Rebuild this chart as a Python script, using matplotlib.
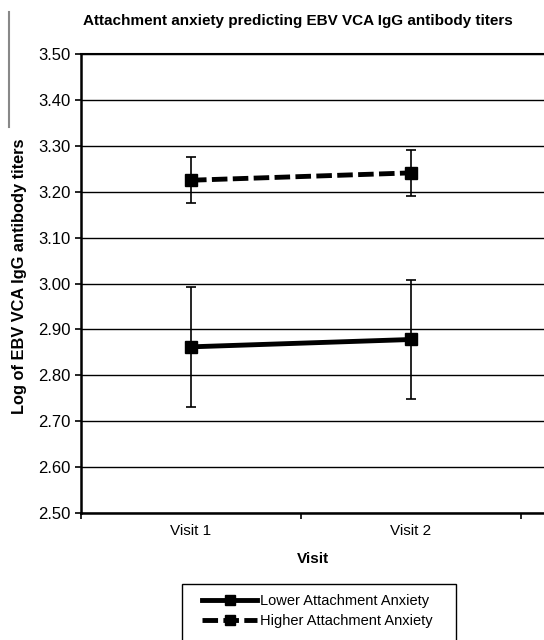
import matplotlib.pyplot as plt
import matplotlib.lines as mlines
import matplotlib.patches as mpatches

plt.rcParams['font.family'] = ['Liberation Sans', 'DejaVu Sans']

visits = ['Visit 1', 'Visit 2']
lower = [2.862, 2.878]
lower_err = [0.13, 0.13]
higher = [3.225, 3.241]
higher_err = [0.05, 0.05]
yticks = [2.50, 2.60, 2.70, 2.80, 2.90, 3.00, 3.10, 3.20, 3.30, 3.40, 3.50]

fig = plt.figure(figsize=(5.44, 6.4), dpi=100)
ax = fig.add_axes([81/544, 1-513/640, 1-81/544, (513-54)/640])

xpos = [0.5, 1.5]
dash = (0, (3.2, 1.1))
ax.errorbar(xpos, lower, yerr=lower_err, color='black', lw=3.5, marker='s', ms=8,
            ecolor='black', elinewidth=1.2, capsize=3.5, capthick=1.2)
ax.errorbar(xpos, higher, yerr=higher_err, color='black', lw=3.5, ls=dash, marker='s', ms=8,
            ecolor='black', elinewidth=1.2, capsize=3.5, capthick=1.2)

ax.set_xlim(0, (544-81)/220)
ax.set_ylim(2.5, 3.5)
ax.set_yticks(yticks)
ax.set_yticklabels(['%.2f' % t for t in yticks], fontsize=12)
ax.yaxis.grid(True, color='black', lw=1.0)
ax.set_axisbelow(True)
ax.set_xticks([0, 1, 2])
ax.set_xticklabels([])
ax.set_xticks(xpos, minor=True)
ax.set_xticklabels(visits, minor=True, fontsize=11)
ax.tick_params(axis='x', which='minor', length=0, pad=8)
ax.tick_params(axis='both', which='major', direction='out', length=4, width=1.2, color='black')
ax.spines['top'].set_linewidth(1.5)
ax.spines['right'].set_visible(False)
ax.spines['left'].set_linewidth(1.8)
ax.spines['bottom'].set_linewidth(1.8)
ax.set_xlabel('Visit', fontsize=11, fontweight='bold', labelpad=10)
ax.set_ylabel('Log of EBV VCA IgG antibody titers', fontsize=11.8, fontweight='bold')
ax.yaxis.set_label_coords(-0.117, (513-276)/459)
fig.text(298/544, 1-21/640, 'Attachment anxiety predicting EBV VCA IgG antibody titers',
         ha='center', va='center', fontsize=11, fontweight='bold')

# stray grey line at the left edge
fig.add_artist(mlines.Line2D([9/544, 9/544], [1-12/640, 1-127/640], color='#888888', lw=1.5))

# legend box (runs off the bottom of the image)
fig.add_artist(mpatches.Rectangle((182/544, -0.05), (456-182)/544, 0.05+1-584/640,
                                  transform=fig.transFigure, fill=False, edgecolor='black', lw=1.0))
h1 = mlines.Line2D([], [], color='black', lw=3.5, marker='s', ms=6.5)
h2 = mlines.Line2D([], [], color='black', lw=3.5, ls=dash, marker='s', ms=6.5)
fig.legend([h1, h2], ['Lower Attachment Anxiety', 'Higher Attachment Anxiety'],
           loc='upper left', bbox_to_anchor=(202/544, 1-594/640), fontsize=10.5,
           frameon=False, handlelength=3.8, borderpad=0, borderaxespad=0,
           labelspacing=0.4, handletextpad=0.2)

fig.savefig('out.png', dpi=100)
